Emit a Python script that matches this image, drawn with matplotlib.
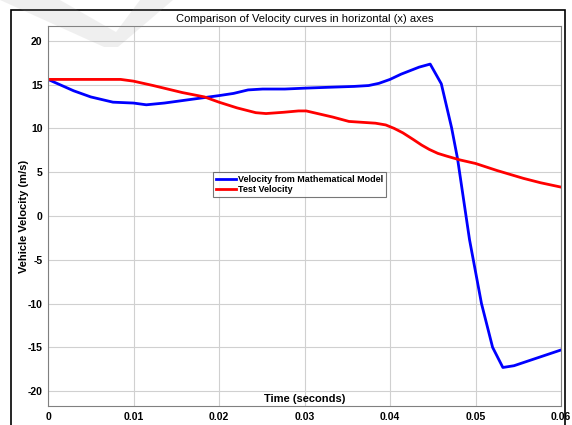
import matplotlib
matplotlib.use("Agg")
import matplotlib.pyplot as plt
from matplotlib.patches import Polygon, Rectangle

plt.rcParams['font.family'] = ['Liberation Sans', 'DejaVu Sans']
plt.rcParams['axes.unicode_minus'] = False

# Velocity from the mathematical model
t_model = [0, 0.003, 0.005, 0.0076, 0.01, 0.0115, 0.0136, 0.0166, 0.02, 0.0217,
           0.0234, 0.0251, 0.0277, 0.03, 0.0328, 0.0358, 0.0375, 0.0387, 0.04,
           0.0413, 0.0434, 0.0447, 0.046, 0.0472, 0.0479, 0.0493, 0.0507, 0.052,
           0.0532, 0.0545, 0.06]
v_model = [15.6, 14.3, 13.6, 13.0, 12.9, 12.7, 12.9, 13.3, 13.75, 14.0,
           14.4, 14.5, 14.5, 14.6, 14.7, 14.8, 14.9, 15.15, 15.6,
           16.2, 17.0, 17.35, 15.1, 10.1, 6.55, -2.7, -10.0, -15.0,
           -17.3, -17.1, -15.3]

# Test velocity
t_test = [0, 0.004, 0.0085, 0.01, 0.0123, 0.0157, 0.0183, 0.02, 0.0221, 0.0243,
          0.0255, 0.0276, 0.0293, 0.0302, 0.0333, 0.0352, 0.0383, 0.0395, 0.0405,
          0.0415, 0.0427, 0.0437, 0.0446, 0.0456, 0.0466, 0.0482, 0.05, 0.0525,
          0.0556, 0.0576, 0.06]
v_test = [15.6, 15.6, 15.6, 15.4, 14.9, 14.1, 13.6, 13.0, 12.35, 11.8,
          11.7, 11.85, 12.0, 12.0, 11.3, 10.8, 10.6, 10.4, 10.0,
          9.5, 8.75, 8.1, 7.6, 7.15, 6.85, 6.4, 6.0, 5.2,
          4.3, 3.8, 3.3]

x_ticks = [0, 0.01, 0.02, 0.03, 0.04, 0.05, 0.06]
x_labels = ['0', '0.01', '0.02', '0.03', '0.04', '0.05', '0.06']
y_ticks = [-20, -15, -10, -5, 0, 5, 10, 15, 20]

W, H = 572, 425
fig = plt.figure(figsize=(W / 100, H / 100), dpi=100)
ax = fig.add_axes([48 / W, 19 / H, 513 / W, 380 / H])

ax.plot(t_model, v_model, color='#0000ff', linewidth=2, label='Velocity from Mathematical Model')
ax.plot(t_test, v_test, color='#ff0000', linewidth=2, label='Test Velocity')

ax.set_xlim(0, 0.06)
ax.set_ylim(-21.7, 21.7)
ax.set_xticks(x_ticks)
ax.set_xticklabels(x_labels)
ax.set_yticks(y_ticks)
ax.tick_params(labelsize=7.5, length=0)
ax.tick_params(axis='x', pad=4)
ax.tick_params(axis='y', pad=4)
for lab in ax.get_xticklabels() + ax.get_yticklabels():
    lab.set_fontweight('bold')
ax.grid(True, color='#d0d0d0', linewidth=0.8)
ax.set_axisbelow(True)
for s in ax.spines.values():
    s.set_color('#808080')
    s.set_linewidth(0.8)

ax.set_title('Comparison of Velocity curves in horizontal (x) axes', fontsize=8, pad=3)
ax.set_ylabel('Vehicle Velocity (m/s)', fontsize=8, fontweight='bold', labelpad=-1)
ax.text(0.5, 0.004, 'Time (seconds)', transform=ax.transAxes, ha='center', va='bottom',
        fontsize=8, fontweight='bold')

leg = ax.legend(loc='upper left', bbox_to_anchor=((213 - 48) / 513, (406 - 172) / 380),
                prop={'size': 6.5, 'weight': 'bold'}, frameon=True, fancybox=False,
                handlelength=2.2, handletextpad=0.3, borderpad=0.3, labelspacing=0.15,
                borderaxespad=0)
leg.get_frame().set_edgecolor('#555555')
leg.get_frame().set_linewidth(0.8)

# outer frame of the figure panel
fig.patches.append(Rectangle((11 / W, -0.1), (565 - 11) / W, 1.1 - 10 / H,
                             transform=fig.transFigure, fill=False,
                             edgecolor='black', linewidth=1.2))

# faint watermark in the top-left corner
wm = [(0, 0), (60, 0), (116, 32), (140, 0), (173, 0), (118, 47), (104, 47)]
fig.patches.append(Polygon([(x / W, 1 - y / H) for x, y in wm], closed=True,
                           transform=fig.transFigure, facecolor='#9a9a9a',
                           alpha=0.15, edgecolor='none', zorder=10))

fig.savefig('out.png', dpi=100)
